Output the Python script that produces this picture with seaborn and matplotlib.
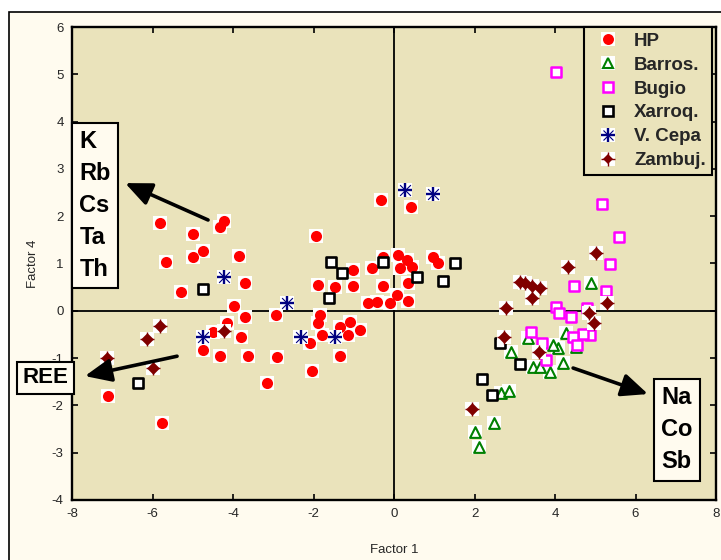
import matplotlib
matplotlib.use("Agg")
import matplotlib.pyplot as plt
import seaborn as sns
import pandas as pd
from matplotlib.lines import Line2D
from matplotlib.patches import Rectangle
from matplotlib.legend_handler import HandlerTuple

# ---------------- data (Factor 1, Factor 4) ----------------
hp_x = [-5.81, -4.99, -4.32, -4.22, -4.75, -4.99, -5.66, -3.85, -3.70, -5.29,
        -3.98, -3.70, -4.15, -3.80, -4.75, -4.32, -3.63, -3.16, -7.11, -5.76,
        -4.50, -0.32, 0.42, -1.94, -1.02, -1.89, -1.47, -1.02, -0.27, -0.27,
        0.10, 0.32, 0.45, 0.15, -0.55, 0.97, 1.09, 0.35, 0.07, 0.35,
        -0.65, -0.42, -0.10, -2.93, -1.84, -1.89, -1.09, -0.84, -1.14, -1.79,
        -2.09, -1.34, -2.34, -2.91, -1.34, -2.04]
hp_y = [1.86, 1.62, 1.77, 1.90, 1.26, 1.14, 1.03, 1.16, 0.59, 0.40,
        0.10, -0.13, -0.26, -0.55, -0.83, -0.96, -0.96, -1.53, -1.80, -2.37,
        -0.45, 2.34, 2.20, 1.58, 0.86, 0.55, 0.50, 0.52, 0.52, 1.14,
        1.18, 1.07, 0.93, 0.90, 0.90, 1.14, 1.01, 0.59, 0.33, 0.21,
        0.17, 0.19, 0.17, -0.09, -0.09, -0.26, -0.24, -0.41, -0.51, -0.51,
        -0.68, -0.34, -0.55, -0.98, -0.96, -1.27]

barros_x = [4.89, 3.33, 2.91, 4.07, 3.95, 4.27, 4.52, 4.20, 3.88, 3.45,
            3.62, 2.66, 2.86, 2.48, 2.01, 2.11]
barros_y = [0.59, -0.57, -0.87, -0.79, -0.72, -0.47, -0.76, -1.10, -1.29, -1.19,
            -1.19, -1.74, -1.70, -2.37, -2.56, -2.88]

bugio_x = [4.02, 5.17, 5.59, 5.37, 4.47, 5.27, 4.02, 4.10, 4.40, 4.80,
           4.87, 4.70, 4.45, 4.55, 3.40, 3.68, 3.78]
bugio_y = [5.05, 2.26, 1.56, 0.99, 0.52, 0.42, 0.08, -0.05, -0.13, 0.06,
           -0.51, -0.49, -0.55, -0.72, -0.45, -0.68, -1.04]

xarroq_x = [-4.75, -6.36, -1.57, -1.29, -1.62, -0.27, 0.57, 1.22, 1.52, 2.63,
            3.13, 2.19, 2.43]
xarroq_y = [0.46, -1.53, 1.03, 0.80, 0.27, 1.03, 0.71, 0.63, 1.01, -0.68,
            -1.12, -1.44, -1.78]

vcepa_x = [-4.22, -4.75, -2.66, -2.31, -1.47, 0.27, 0.97]
vcepa_y = [0.71, -0.55, 0.17, -0.55, -0.55, 2.55, 2.47]

zambuj_x = [-5.81, -6.14, -7.13, -5.99, -4.22, 5.02, 4.32, 3.25, 3.43, 3.62,
            3.43, 2.78, 5.29, 4.85, 4.97, 2.73, 3.60, 1.94, 3.13]
zambuj_y = [-0.32, -0.60, -1.00, -1.21, -0.43, 1.22, 0.93, 0.59, 0.52, 0.48,
            0.27, 0.06, 0.17, -0.05, -0.26, -0.55, -0.87, -2.08, 0.61]

group_names = ["HP", "Barros.", "Bugio", "Xarroq.", "V. Cepa", "Zambuj."]

x_ticks = [-8, -6, -4, -2, 0, 2, 4, 6, 8]
y_ticks = [-4, -3, -2, -1, 0, 1, 2, 3, 4, 5, 6]

# loading arrows (start -> end) and labels
arrow_starts = [(-4.62, 1.92), (-5.39, -0.96), (4.45, -1.21)]
arrow_ends = [(-6.68, 2.70), (-7.68, -1.38), (6.31, -1.76)]
box_labels = ["K\nRb\nCs\nTa\nTh", "REE", "Na\nCo\nSb"]
box_pos = [(-7.43, 2.22), (-8.65, -1.42), (7.03, -2.52)]

# ---------------- styling ----------------
sns.set_style("ticks")
plt.rcParams['font.family'] = ['Liberation Sans', 'DejaVu Sans']
plt.rcParams['axes.unicode_minus'] = False

AX_BG = '#EAE3BB'
CREAM = '#FFFBEF'

fig = plt.figure(figsize=(7.21, 5.6), dpi=100, facecolor='white')
fig.patches.append(Rectangle((9 / 721, -0.2), 1.5, (560 - 12) / 560 + 0.2,
                             transform=fig.transFigure, facecolor=CREAM,
                             edgecolor='black', lw=1.2, zorder=-10))
ax = fig.add_axes([72 / 721, 60 / 560, 644 / 721, 473 / 560])
ax.set_facecolor(AX_BG)

def df_of(xs, ys):
    return pd.DataFrame({"f1": xs, "f4": ys})

def halo(xs, ys, z):
    sns.scatterplot(data=df_of(xs, ys), x="f1", y="f4", marker='s', s=90,
                    color='white', linewidth=0, ax=ax, zorder=z, legend=False)

# HP
halo(hp_x, hp_y, 3)
sns.scatterplot(data=df_of(hp_x, hp_y), x="f1", y="f4", marker='o', s=64,
                color='#FF0000', linewidth=0, ax=ax, zorder=3.1, legend=False)
# Barros
halo(barros_x, barros_y, 4)
sns.scatterplot(data=df_of(barros_x, barros_y), x="f1", y="f4", marker='^', s=60,
                facecolor='white', edgecolor='#008000', linewidth=1.5, ax=ax,
                zorder=4.1, legend=False)
# Bugio
sns.scatterplot(data=df_of(bugio_x, bugio_y), x="f1", y="f4", marker='s', s=62,
                facecolor='white', edgecolor='#FF00FF', linewidth=1.8, ax=ax,
                zorder=5, legend=False)
# Xarroq
sns.scatterplot(data=df_of(xarroq_x, xarroq_y), x="f1", y="f4", marker='s', s=62,
                facecolor='white', edgecolor='black', linewidth=1.9, ax=ax,
                zorder=6, legend=False)
# V. Cepa
halo(vcepa_x, vcepa_y, 7)
sns.scatterplot(data=df_of(vcepa_x, vcepa_y), x="f1", y="f4", marker='x', s=60,
                color='#000080', linewidth=0.8, ax=ax, zorder=7.1, legend=False)
sns.scatterplot(data=df_of(vcepa_x, vcepa_y), x="f1", y="f4", marker='+', s=95,
                color='#000080', linewidth=1.7, ax=ax, zorder=7.2, legend=False)
# Zambuj
halo(zambuj_x, zambuj_y, 8)
sns.scatterplot(data=df_of(zambuj_x, zambuj_y), x="f1", y="f4", marker='D', s=42,
                color='#800000', linewidth=0, ax=ax, zorder=8.1, legend=False)
sns.scatterplot(data=df_of(zambuj_x, zambuj_y), x="f1", y="f4", marker='+', s=110,
                color='#800000', linewidth=1.0, ax=ax, zorder=8.2, legend=False)

# zero lines
ax.axhline(0, color='black', lw=1.3, zorder=2)
ax.axvline(0, color='black', lw=1.3, zorder=2)

# arrows and labelled boxes
for (sx, sy), (ex, ey) in zip(arrow_starts, arrow_ends):
    ax.annotate('', xy=(ex, ey), xytext=(sx, sy),
                arrowprops=dict(arrowstyle='-|>,head_length=0.8,head_width=0.35',
                                lw=2.6, color='black', mutation_scale=20,
                                shrinkA=0, shrinkB=0), zorder=9, annotation_clip=False)
for lab, (bx, by) in zip(box_labels, box_pos):
    fs = 16 if lab == "REE" else 17
    ax.text(bx, by, lab, ha='center', va='center', multialignment='left',
            fontsize=fs, fontweight='bold', color='black', zorder=10,
            linespacing=1.5, clip_on=False,
            bbox=dict(boxstyle='square,pad=0.25' if lab == "REE" else 'square,pad=0.3',
                      facecolor=CREAM, edgecolor='black', lw=1.5))

# axes
ax.set_xlim(-8, 8)
ax.set_ylim(-4, 6)
ax.set_xticks(x_ticks)
ax.set_yticks(y_ticks)
ax.set_xticklabels([str(t) for t in x_ticks])
ax.set_yticklabels([str(t) for t in y_ticks])
ax.tick_params(axis='both', direction='in', length=4, width=1.2, color='black',
               labelsize=9.5, top=True, right=True)
ax.tick_params(axis='x', pad=6)
ax.tick_params(axis='y', pad=6)
for sp in ax.spines.values():
    sp.set_visible(True)
    sp.set_linewidth(1.7)
    sp.set_color('black')
ax.set_xlabel("Factor 1", fontsize=9.5, labelpad=17)
ax.set_ylabel("Factor 4", fontsize=9.5, labelpad=9)

# legend
def h(**kw):
    return Line2D([], [], linestyle='none', **kw)

halo_h = h(marker='s', markersize=9.5, markerfacecolor='white', markeredgewidth=0)
handles = [
    (halo_h, h(marker='o', markersize=7.9, markerfacecolor='#FF0000', markeredgewidth=0)),
    (halo_h, h(marker='^', markersize=7.7, markerfacecolor='white', markeredgecolor='#008000', markeredgewidth=1.5)),
    h(marker='s', markersize=7.9, markerfacecolor='white', markeredgecolor='#FF00FF', markeredgewidth=1.8),
    h(marker='s', markersize=7.9, markerfacecolor='white', markeredgecolor='black', markeredgewidth=1.9),
    (halo_h, h(marker='x', markersize=7.7, markeredgecolor='#000080', markeredgewidth=0.8),
     h(marker='+', markersize=9.7, markeredgecolor='#000080', markeredgewidth=1.7)),
    (halo_h, h(marker='D', markersize=5.6, markerfacecolor='#800000', markeredgewidth=0),
     h(marker='+', markersize=10.5, markeredgecolor='#800000', markeredgewidth=1.0)),
]
leg = ax.legend(handles, group_names, loc='upper left', bbox_to_anchor=(0.795, 1.0),
                borderaxespad=0, frameon=True, fancybox=False, framealpha=1,
                facecolor=AX_BG, edgecolor='black', prop=dict(weight='bold', size=13.5),
                handlelength=2.0, handletextpad=0.38, borderpad=0.3, labelspacing=0.36,
                handler_map={tuple: HandlerTuple(ndivide=1)})
leg.get_frame().set_linewidth(1.5)
leg.set_zorder(20)

fig.savefig("out.png", dpi=100, facecolor=fig.get_facecolor())
